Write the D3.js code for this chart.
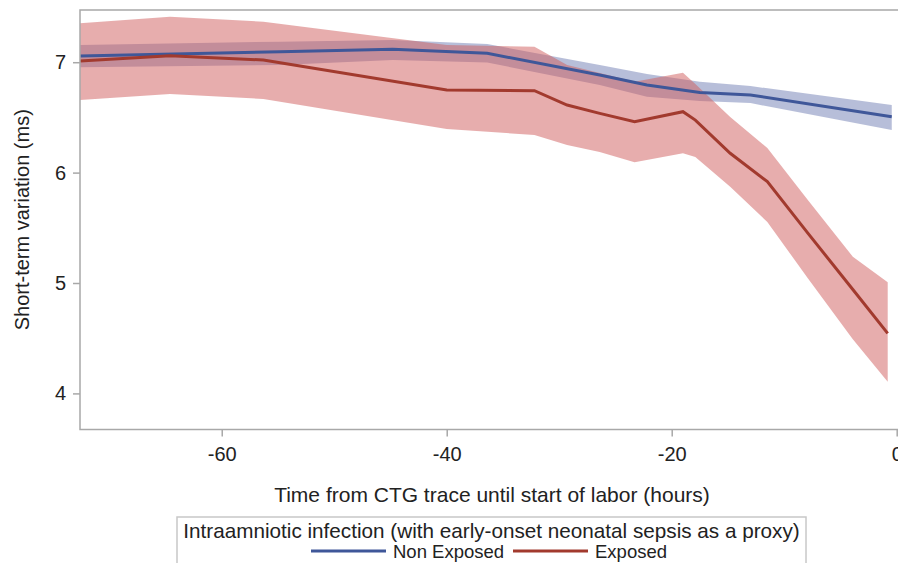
<!DOCTYPE html>
<html>
<head>
<meta charset="utf-8">
<script src="https://cdn.jsdelivr.net/npm/d3@7"></script>
<style>
  body { margin: 0; background: #fff; }
  svg { display: block; font-family: "Liberation Sans", Arial, sans-serif; }
</style>
</head>
<body>
<div id="chart"></div>
<script>
// Non exposed (blue)
const blueHours = [-72.6, -54.8, -44.8, -36.4, -26.4, -22.2, -17.5, -13.0, -0.44];
const blueMean  = [7.056, 7.095, 7.117, 7.081, 6.884, 6.793, 6.726, 6.703, 6.506];
const blueUpper = [7.156, 7.186, 7.201, 7.165, 6.975, 6.893, 6.823, 6.784, 6.612];
const blueLower = [6.954, 6.975, 7.020, 6.997, 6.793, 6.688, 6.649, 6.630, 6.386];

// Exposed (red)
const redHours = [-72.6, -64.6, -56.3, -40.0, -32.2, -29.3, -26.4, -23.3, -19.0, -17.9, -14.8, -11.5, -7.9, -3.9, -0.8];
const redMean  = [7.011, 7.059, 7.020, 6.748, 6.742, 6.612, 6.537, 6.461, 6.552, 6.476, 6.175, 5.918, 5.452, 4.941, 4.544];
const redUpper = [7.352, 7.412, 7.367, 7.156, 7.140, 6.975, 6.902, 6.823, 6.905, 6.803, 6.504, 6.223, 5.752, 5.238, 5.007];
const redLower = [6.658, 6.712, 6.667, 6.395, 6.341, 6.250, 6.187, 6.093, 6.175, 6.141, 5.872, 5.553, 5.043, 4.491, 4.106];

const xTicks = [-60, -40, -20, 0];
const yTicks = [4, 5, 6, 7];

const seriesNames = ['Non Exposed', 'Exposed'];
const legendTitle = 'Intraamniotic infection (with early-onset neonatal sepsis as a proxy)';
const xTitle = 'Time from CTG trace until start of labor (hours)';
const yTitle = 'Short-term variation (ms)';

const width = 898, height = 563;
const plot = { left: 80, right: 903, top: 10, bottom: 429.5 };
const textColor = '#222';
const axisColor = '#a8a8a8';

const svg = d3.select('#chart').append('svg')
  .attr('width', width)
  .attr('height', height);

const x = d3.scaleLinear().domain([-72.6, 0.56]).range([plot.left, plot.right]);
const y = d3.scaleLinear().domain([3.673, 7.473]).range([plot.bottom, plot.top]);

const toRows = (hours, mean, lower, upper) =>
  hours.map((h, i) => ({ h: h, m: mean[i], lo: lower[i], hi: upper[i] }));

const blue = toRows(blueHours, blueMean, blueLower, blueUpper);
const red = toRows(redHours, redMean, redLower, redUpper);

const band = d3.area().x(d => x(d.h)).y0(d => y(d.lo)).y1(d => y(d.hi));
const line = d3.line().x(d => x(d.h)).y(d => y(d.m));

// bands (blue under red)
svg.append('path').datum(blue).attr('d', band)
  .attr('fill', '#6F7EB3').attr('fill-opacity', 0.5);
svg.append('path').datum(red).attr('d', band)
  .attr('fill', '#D05B5B').attr('fill-opacity', 0.5);

// lines
svg.append('path').datum(blue).attr('d', line)
  .attr('fill', 'none').attr('stroke', '#3F5799').attr('stroke-width', 3);
svg.append('path').datum(red).attr('d', line)
  .attr('fill', 'none').attr('stroke', '#A23A2E').attr('stroke-width', 3);

// frame
svg.append('rect')
  .attr('x', plot.left).attr('y', plot.top)
  .attr('width', plot.right - plot.left).attr('height', plot.bottom - plot.top)
  .attr('fill', 'none').attr('stroke', axisColor).attr('stroke-width', 1.5);

// x axis
const xAxis = svg.append('g')
  .attr('transform', `translate(0,${plot.bottom})`)
  .call(d3.axisBottom(x).tickValues(xTicks).tickSize(7).tickPadding(10).tickFormat(d => String(d)));
xAxis.select('.domain').remove();
xAxis.selectAll('line').attr('stroke', axisColor).attr('stroke-width', 1.5);
xAxis.selectAll('text').attr('font-size', 20).attr('fill', textColor)
  .attr('font-family', '"Liberation Sans", Arial, sans-serif');

// y axis
const yAxis = svg.append('g')
  .attr('transform', `translate(${plot.left},0)`)
  .call(d3.axisLeft(y).tickValues(yTicks).tickSize(7).tickPadding(7).tickFormat(d => String(d)));
yAxis.select('.domain').remove();
yAxis.selectAll('line').attr('stroke', axisColor).attr('stroke-width', 1.5);
yAxis.selectAll('text').attr('font-size', 20).attr('fill', textColor)
  .attr('font-family', '"Liberation Sans", Arial, sans-serif');

// axis titles
svg.append('text')
  .attr('x', 492).attr('y', 502)
  .attr('text-anchor', 'middle')
  .attr('font-size', 21).attr('fill', textColor)
  .text(xTitle);

svg.append('text')
  .attr('transform', `translate(29,${(plot.top + plot.bottom) / 2}) rotate(-90)`)
  .attr('text-anchor', 'middle')
  .attr('font-size', 20).attr('fill', textColor)
  .text(yTitle);

// legend
const legend = svg.append('g');
legend.append('rect')
  .attr('x', 177).attr('y', 517).attr('width', 629).attr('height', 47)
  .attr('fill', '#fff').attr('stroke', '#c8c8c8').attr('stroke-width', 1.5);
legend.append('text')
  .attr('x', 491.5).attr('y', 538)
  .attr('text-anchor', 'middle')
  .attr('font-size', 20.7).attr('fill', textColor)
  .text(legendTitle);

const legendItems = [
  { name: seriesNames[0], color: '#3F5799', x0: 311 },
  { name: seriesNames[1], color: '#A23A2E', x0: 513 }
];
legendItems.forEach(item => {
  legend.append('line')
    .attr('x1', item.x0).attr('x2', item.x0 + 75)
    .attr('y1', 551).attr('y2', 551)
    .attr('stroke', item.color).attr('stroke-width', 3);
  legend.append('text')
    .attr('x', item.x0 + 82).attr('y', 557.5)
    .attr('font-size', 18.5).attr('fill', textColor)
    .text(item.name);
});
</script>
</body>
</html>
